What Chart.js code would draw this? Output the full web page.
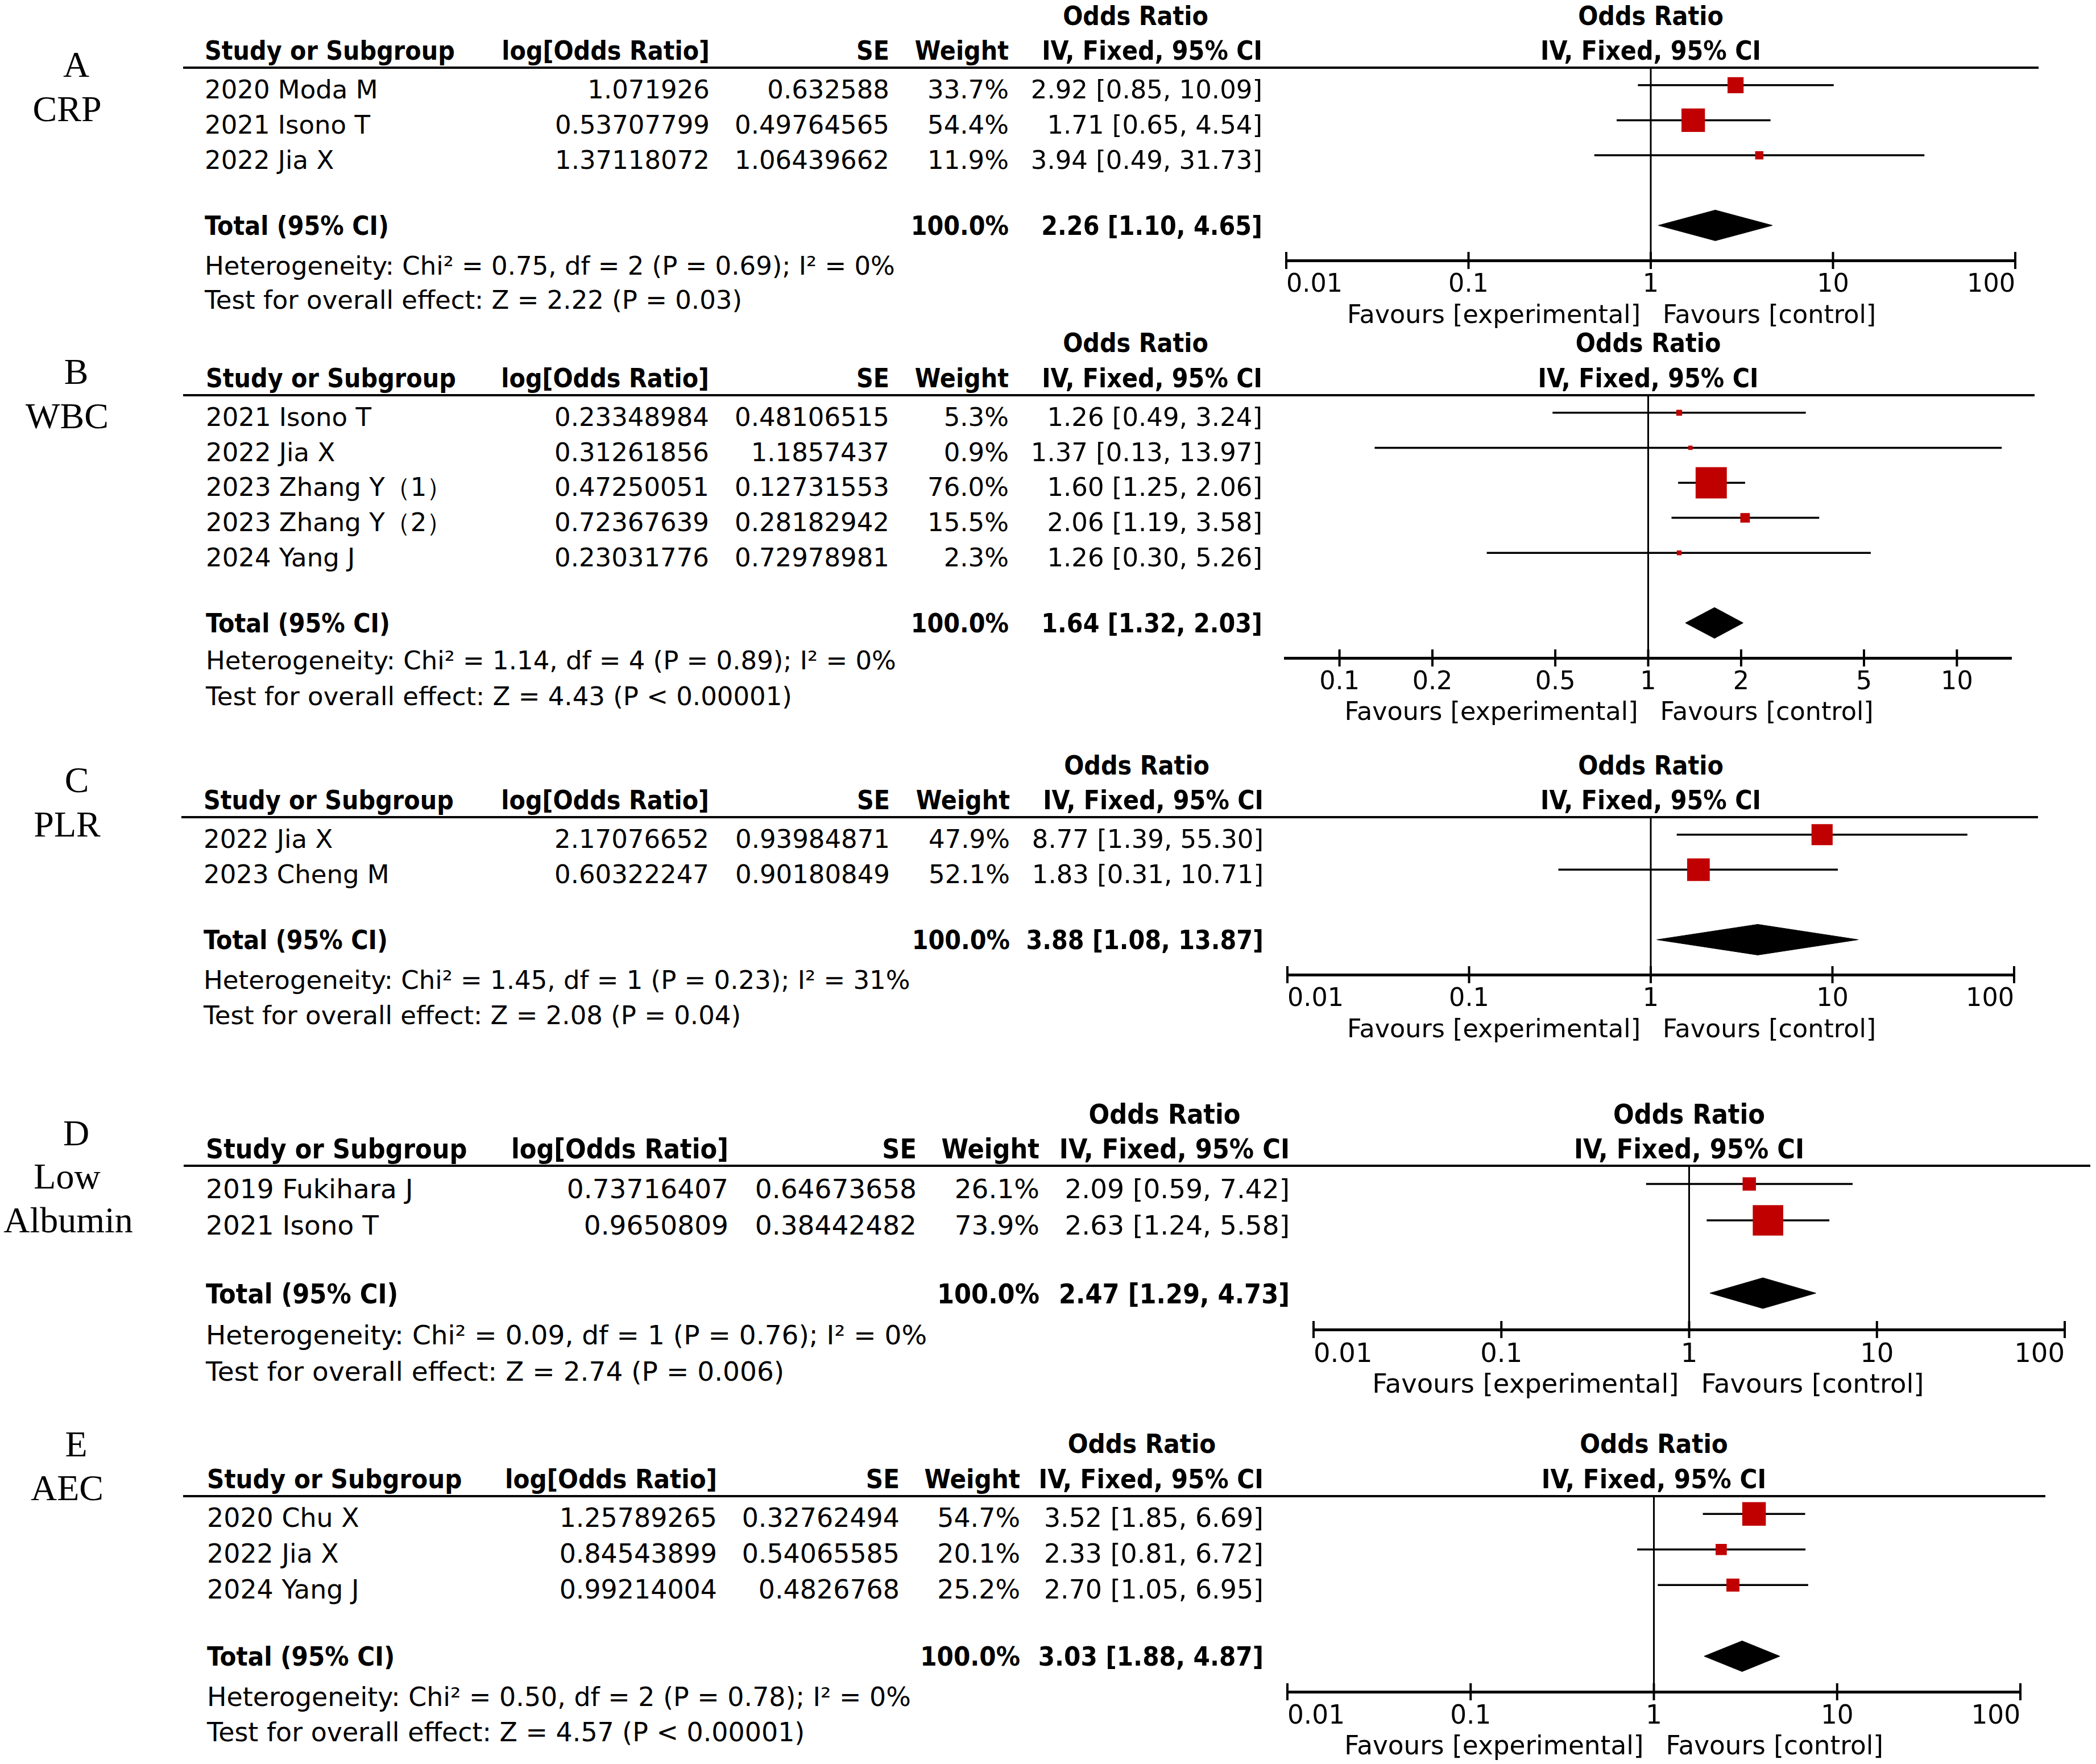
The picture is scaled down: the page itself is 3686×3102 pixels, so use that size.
<!DOCTYPE html>
<html>
<head>
<meta charset="utf-8">
<script src="https://cdn.jsdelivr.net/npm/chart.js@4.4.1/dist/chart.umd.min.js"></script>
<style>
  html, body { margin: 0; padding: 0; background: #fff; }
  #page { position: relative; width: 3686px; height: 3102px; overflow: hidden; background: #fff; }
  .t { position: absolute; white-space: nowrap; line-height: 1; color: #000;
       font-family: "DejaVu Sans", sans-serif; }
  .b { font-family: "DejaVu Sans Condensed", "DejaVu Sans", sans-serif; font-weight: bold;
       font-stretch: semi-condensed; }
  .lab { font-family: "Liberation Serif", "Times New Roman", serif; }
  .rule { position: absolute; height: 4px; background: #000; }
  canvas { position: absolute; }
</style>
</head>
<body>
<div id="page"></div>
<script>
// ---- A: CRP ----
const crpNames = ['A', 'CRP'];
const crpStudies = ['2020 Moda M', '2021 Isono T', '2022 Jia X'];
const crpLogOR = ['1.071926', '0.53707799', '1.37118072'];
const crpSE = ['0.632588', '0.49764565', '1.06439662'];
const crpWeight = [33.7, 54.4, 11.9];
const crpOR = [2.92, 1.71, 3.94];
const crpLower = [0.85, 0.65, 0.49];
const crpUpper = [10.09, 4.54, 31.73];
const crpTotal = [2.26, 1.10, 4.65];
const crpHet = 'Heterogeneity: Chi² = 0.75, df = 2 (P = 0.69); I² = 0%';
const crpTest = 'Test for overall effect: Z = 2.22 (P = 0.03)';

// ---- B: WBC ----
const wbcNames = ['B', 'WBC'];
const wbcStudies = ['2021 Isono T', '2022 Jia X', '2023 Zhang Y（1）', '2023 Zhang Y（2）', '2024 Yang J'];
const wbcLogOR = ['0.23348984', '0.31261856', '0.47250051', '0.72367639', '0.23031776'];
const wbcSE = ['0.48106515', '1.1857437', '0.12731553', '0.28182942', '0.72978981'];
const wbcWeight = [5.3, 0.9, 76.0, 15.5, 2.3];
const wbcOR = [1.26, 1.37, 1.60, 2.06, 1.26];
const wbcLower = [0.49, 0.13, 1.25, 1.19, 0.30];
const wbcUpper = [3.24, 13.97, 2.06, 3.58, 5.26];
const wbcTotal = [1.64, 1.32, 2.03];
const wbcHet = 'Heterogeneity: Chi² = 1.14, df = 4 (P = 0.89); I² = 0%';
const wbcTest = 'Test for overall effect: Z = 4.43 (P < 0.00001)';

// ---- C: PLR ----
const plrNames = ['C', 'PLR'];
const plrStudies = ['2022 Jia X', '2023 Cheng M'];
const plrLogOR = ['2.17076652', '0.60322247'];
const plrSE = ['0.93984871', '0.90180849'];
const plrWeight = [47.9, 52.1];
const plrOR = [8.77, 1.83];
const plrLower = [1.39, 0.31];
const plrUpper = [55.30, 10.71];
const plrTotal = [3.88, 1.08, 13.87];
const plrHet = 'Heterogeneity: Chi² = 1.45, df = 1 (P = 0.23); I² = 31%';
const plrTest = 'Test for overall effect: Z = 2.08 (P = 0.04)';

// ---- D: Low Albumin ----
const albNames = ['D', 'Low', 'Albumin'];
const albStudies = ['2019 Fukihara J', '2021 Isono T'];
const albLogOR = ['0.73716407', '0.9650809'];
const albSE = ['0.64673658', '0.38442482'];
const albWeight = [26.1, 73.9];
const albOR = [2.09, 2.63];
const albLower = [0.59, 1.24];
const albUpper = [7.42, 5.58];
const albTotal = [2.47, 1.29, 4.73];
const albHet = 'Heterogeneity: Chi² = 0.09, df = 1 (P = 0.76); I² = 0%';
const albTest = 'Test for overall effect: Z = 2.74 (P = 0.006)';

// ---- E: AEC ----
const aecNames = ['E', 'AEC'];
const aecStudies = ['2020 Chu X', '2022 Jia X', '2024 Yang J'];
const aecLogOR = ['1.25789265', '0.84543899', '0.99214004'];
const aecSE = ['0.32762494', '0.54065585', '0.4826768'];
const aecWeight = [54.7, 20.1, 25.2];
const aecOR = [3.52, 2.33, 2.70];
const aecLower = [1.85, 0.81, 1.05];
const aecUpper = [6.69, 6.72, 6.95];
const aecTotal = [3.03, 1.88, 4.87];
const aecHet = 'Heterogeneity: Chi² = 0.50, df = 2 (P = 0.78); I² = 0%';
const aecTest = 'Test for overall effect: Z = 4.57 (P < 0.00001)';

// axes
const fullRange = [0.01, 100];
const fullTicks = [0.01, 0.1, 1, 10, 100];
const fullTickLabels = ['0.01', '0.1', '1', '10', '100'];
const wbcRange = [1 / 15, 15];
const wbcTicks = [0.1, 0.2, 0.5, 1, 2, 5, 10];
const wbcTickLabels = ['0.1', '0.2', '0.5', '1', '2', '5', '10'];

const page = document.getElementById('page');

// page geometry for each panel (pixels); k = text scale of the panel
const panels = [
  { names: crpNames, studies: crpStudies, logOR: crpLogOR, se: crpSE, weight: crpWeight, or: crpOR,
    lower: crpLower, upper: crpUpper, total: crpTotal, het: crpHet, test: crpTest,
    range: fullRange, ticks: fullTicks, tickLabels: fullTickLabels,
    geo: { namePos: [[134, 113], [118, 191]], lineY: 118.6, axisY: 458, lineL: 322, lineR: 3585,
           plotL: 2262, plotR: 3544, studyX: 360, logR: 1248, seR: 1564, wR: 1774, ciR: 2220,
           hetY: 467, testY: 527, align: 'inner', k: 1 } },
  { names: wbcNames, studies: wbcStudies, logOR: wbcLogOR, se: wbcSE, weight: wbcWeight, or: wbcOR,
    lower: wbcLower, upper: wbcUpper, total: wbcTotal, het: wbcHet, test: wbcTest,
    range: wbcRange, ticks: wbcTicks, tickLabels: wbcTickLabels,
    geo: { namePos: [[134, 653], [118, 731]], lineY: 694.5, axisY: 1156, lineL: 322, lineR: 3578,
           plotL: 2260, plotR: 3537, studyX: 362, logR: 1247, seR: 1564, wR: 1774, ciR: 2220,
           hetY: 1161, testY: 1224, align: 'center', k: 1 } },
  { names: plrNames, studies: plrStudies, logOR: plrLogOR, se: plrSE, weight: plrWeight, or: plrOR,
    lower: plrLower, upper: plrUpper, total: plrTotal, het: plrHet, test: plrTest,
    range: fullRange, ticks: fullTicks, tickLabels: fullTickLabels,
    geo: { namePos: [[135, 1371], [118, 1449]], lineY: 1436.6, axisY: 1714, lineL: 319, lineR: 3584,
           plotL: 2264, plotR: 3542, studyX: 358, logR: 1247, seR: 1565, wR: 1776, ciR: 2222,
           hetY: 1723, testY: 1785, align: 'inner', k: 1 } },
  { names: albNames, studies: albStudies, logOR: albLogOR, se: albSE, weight: albWeight, or: albOR,
    lower: albLower, upper: albUpper, total: albTotal, het: albHet, test: albTest,
    range: fullRange, ticks: fullTicks, tickLabels: fullTickLabels,
    geo: { namePos: [[134, 1992], [118, 2068], [120, 2145]], lineY: 2050, axisY: 2338, lineL: 323, lineR: 3676,
           plotL: 2310, plotR: 3631, studyX: 362, logR: 1281, seR: 1612, wR: 1828, ciR: 2268,
           hetY: 2347, testY: 2411, align: 'inner', k: 1.045 } },
  { names: aecNames, studies: aecStudies, logOR: aecLogOR, se: aecSE, weight: aecWeight, or: aecOR,
    lower: aecLower, upper: aecUpper, total: aecTotal, het: aecHet, test: aecTest,
    range: fullRange, ticks: fullTicks, tickLabels: fullTickLabels,
    geo: { namePos: [[134, 2539], [118, 2616]], lineY: 2630.7, axisY: 2975, lineL: 322, lineR: 3597,
           plotL: 2264, plotR: 3553, studyX: 364, logR: 1261, seR: 1582, wR: 1794, ciR: 2222,
           hetY: 2984, testY: 3046, align: 'inner', k: 1.02 } }
];

const baseSize = { r: 45, b: 46, ax: 44.5, lab: 64 };

function txt(str, x, cy, align, cls, k) {
  const d = document.createElement('div');
  d.className = 't' + (cls === 'b' || cls === 'lab' ? ' ' + cls : '');
  d.textContent = str;
  const size = baseSize[cls] * (k || 1);
  d.style.fontSize = size + 'px';
  d.style.left = x + 'px';
  d.style.top = (cy - size * 0.48) + 'px';
  if (align === 'right') d.style.transform = 'translateX(-100%)';
  else if (align === 'center') d.style.transform = 'translateX(-50%)';
  page.appendChild(d);
  return d;
}

const fmtCI = (o, l, h) => `${o.toFixed(2)} [${l.toFixed(2)}, ${h.toFixed(2)}]`;
// box side grows with study weight
const boxSide = w => 7 + 0.63 * w;

// tick marks cross the axis line
const tickCross = {
  id: 'tickCross',
  afterDraw(chart) {
    const { ctx, scales: { x } } = chart;
    const y0 = chart.chartArea.bottom;
    ctx.save();
    ctx.strokeStyle = '#000';
    ctx.lineWidth = 4;
    x.ticks.forEach(t => {
      const px = x.getPixelForValue(t.value);
      ctx.beginPath();
      ctx.moveTo(px, y0 - 15);
      ctx.lineTo(px, y0 + 15);
      ctx.stroke();
    });
    ctx.restore();
  }
};

function buildPanel(p) {
  const g = p.geo;
  const k = g.k;
  const n = p.studies.length;
  const totalRow = n + 1;
  const axisRow = n + 2;
  const padL = 60, padR = 60, padT = 12, scaleH = 90;
  const pitch = (g.axisY - g.lineY) / (axisRow + 0.5);
  const cvLeft = g.plotL - padL;
  const cvTop = g.lineY - padT;
  const W = Math.round(g.plotR - g.plotL + padL + padR);
  const H = Math.round(g.axisY - g.lineY + padT + scaleH);

  const canvas = document.createElement('canvas');
  canvas.width = W;
  canvas.height = H;
  canvas.style.left = cvLeft + 'px';
  canvas.style.top = cvTop + 'px';
  canvas.style.width = W + 'px';
  canvas.style.height = H + 'px';

  const half = 27 / pitch;
  const line = (data, width, order) => ({
    data, showLine: true, pointRadius: 0, borderColor: '#000', borderWidth: width,
    fill: false, order, clip: false
  });

  const datasets = [
    {
      data: p.or.map((v, i) => ({ x: v, y: i })),
      pointStyle: 'rect',
      pointRadius: p.weight.map(w => boxSide(w) / Math.SQRT2),
      backgroundColor: '#C00000',
      borderColor: '#C00000',
      borderWidth: 0,
      order: 0,
      clip: false
    },
    {
      data: [{ x: p.total[1], y: totalRow }, { x: p.total[0], y: totalRow - half }, { x: p.total[2], y: totalRow }],
      showLine: true, pointRadius: 0, borderColor: '#000', borderWidth: 1, fill: false, order: 1, clip: false
    },
    {
      data: [{ x: p.total[1], y: totalRow }, { x: p.total[0], y: totalRow + half }, { x: p.total[2], y: totalRow }],
      showLine: true, pointRadius: 0, borderColor: '#000', borderWidth: 1, backgroundColor: '#000',
      fill: '-1', order: 1, clip: false
    }
  ];
  p.lower.forEach((lo, i) => {
    datasets.push(line([{ x: lo, y: i }, { x: p.upper[i], y: i }], 3.5, 2));
  });
  datasets.push(line([{ x: 1, y: -0.5 }, { x: 1, y: axisRow }], 3, 3));

  page.appendChild(canvas);
  const chart = new Chart(canvas.getContext('2d'), {
    type: 'scatter',
    data: { datasets },
    options: {
      responsive: false,
      animation: false,
      devicePixelRatio: 1,
      layout: { autoPadding: false, padding: { left: padL, right: padR, top: padT, bottom: 0 } },
      plugins: { legend: { display: false }, tooltip: { enabled: false } },
      scales: {
        x: {
          type: 'logarithmic',
          min: p.range[0],
          max: p.range[1],
          grid: { display: false },
          border: { display: true, color: '#000', width: 5 },
          afterBuildTicks: s => { s.ticks = p.ticks.map(v => ({ value: v })); },
          afterFit: s => { s.height = scaleH; },
          ticks: {
            autoSkip: false, maxRotation: 0, minRotation: 0,
            align: g.align, padding: 9, color: '#000',
            font: { family: 'DejaVu Sans', size: baseSize.ax * k },
            callback: (v, i) => p.tickLabels[i]
          }
        },
        y: { type: 'linear', display: false, min: -0.5, max: axisRow, reverse: true }
      }
    },
    plugins: [tickCross]
  });

  const ys = chart.scales.y;
  const xs = chart.scales.x;
  const rowY = i => cvTop + ys.getPixelForValue(i);
  const oneX = cvLeft + xs.getPixelForValue(1);

  // panel name
  p.names.forEach((s, i) => txt(s, g.namePos[i][0], g.namePos[i][1], 'center', 'lab', 1));

  // header rule
  const r = document.createElement('div');
  r.className = 'rule';
  r.style.left = g.lineL + 'px';
  r.style.width = (g.lineR - g.lineL) + 'px';
  r.style.top = (g.lineY - 2) + 'px';
  page.appendChild(r);

  // headers
  const titleY = g.lineY - 92;
  const headY = g.lineY - 30.5;
  txt('Odds Ratio', (g.wR + g.ciR) / 2, titleY, 'center', 'b', k);
  txt('Odds Ratio', oneX, titleY, 'center', 'b', k);
  txt('Study or Subgroup', g.studyX, headY, 'left', 'b', k);
  txt('log[Odds Ratio]', g.logR, headY, 'right', 'b', k);
  txt('SE', g.seR, headY, 'right', 'b', k);
  txt('Weight', g.wR, headY, 'right', 'b', k);
  txt('IV, Fixed, 95% CI', g.ciR, headY, 'right', 'b', k);
  txt('IV, Fixed, 95% CI', oneX, headY, 'center', 'b', k);

  // study rows
  p.studies.forEach((s, i) => {
    const y = rowY(i) + 7.5;
    txt(s, g.studyX, y, 'left', 'r', k);
    txt(p.logOR[i], g.logR, y, 'right', 'r', k);
    txt(p.se[i], g.seR, y, 'right', 'r', k);
    txt(p.weight[i].toFixed(1) + '%', g.wR, y, 'right', 'r', k);
    txt(fmtCI(p.or[i], p.lower[i], p.upper[i]), g.ciR, y, 'right', 'r', k);
  });

  // total row
  const ty = rowY(totalRow);
  txt('Total (95% CI)', g.studyX, ty, 'left', 'b', k);
  txt('100.0%', g.wR, ty, 'right', 'b', k);
  txt(fmtCI(p.total[0], p.total[1], p.total[2]), g.ciR, ty, 'right', 'b', k);
  txt(p.het, g.studyX, g.hetY, 'left', 'r', k);
  txt(p.test, g.studyX, g.testY, 'left', 'r', k);

  // favours labels
  const favY = g.axisY + 94;
  txt('Favours [experimental]', oneX - 18, favY, 'right', 'ax', k);
  txt('Favours [control]', oneX + 21, favY, 'left', 'ax', k);
}

panels.forEach(buildPanel);
</script>
</body>
</html>
